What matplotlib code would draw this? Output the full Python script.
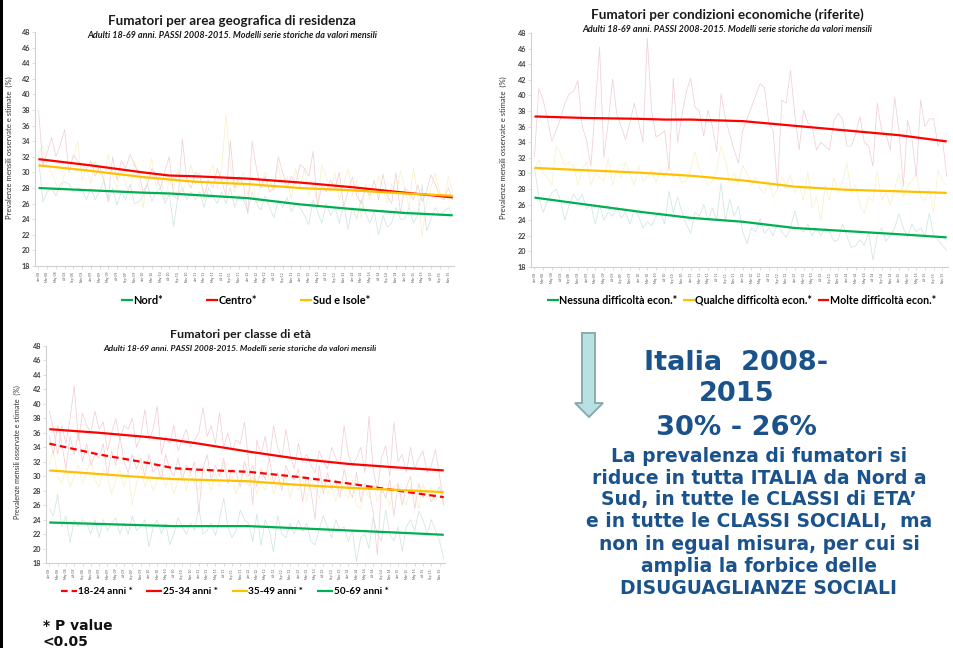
import matplotlib
matplotlib.use("Agg")
import matplotlib.pyplot as plt
from matplotlib.patches import Polygon, Rectangle
import numpy as np

plt.rcParams['font.family'] = ['Lato', 'DejaVu Sans']

W, H = 954, 648

# ---------------- data ----------------
month_names = ['Jan', 'Mar', 'May', 'Jul', 'Sep', 'Nov']
years = ['08', '09', '10', '11', '12', '13', '14', '15']
tick_labels = [f"{m}-{y}" for y in years for m in month_names]
n_months = 96
months = list(range(n_months))
tick_pos = list(range(0, n_months, 2))

trend_idx = [0, 12, 24, 30, 36, 48, 60, 72, 84, 95]

# Chart 1: area geografica
nord_trend = [28.0, 27.7, 27.4, 27.3, 27.1, 26.7, 25.9, 25.3, 24.8, 24.5]
centro_trend = [31.7, 30.9, 30.0, 29.6, 29.5, 29.2, 28.7, 28.1, 27.4, 26.8]
sud_trend = [30.9, 30.2, 29.4, 29.1, 28.8, 28.5, 28.0, 27.7, 27.3, 27.0]

centro_obs = [38.0, 31.0, 32.5, 34.5, 32.0, 33.5, 35.5, 30.0, 32.2, 31.5, 31.0, 30.5,
              31.5, 29.5, 30.8, 29.0, 26.5, 32.0, 29.0, 31.5, 30.5, 32.3, 31.0, 30.0,
              27.5, 28.5, 30.5, 29.5, 28.0, 30.2, 32.0, 27.0, 26.5, 34.3, 29.0, 28.0,
              30.0, 29.5, 27.0, 29.0, 28.0, 30.5, 29.0, 27.0, 34.0, 28.0, 29.5, 28.5,
              24.7, 34.0, 30.5, 28.0, 29.5, 27.5, 28.0, 32.0, 30.0, 28.0, 29.5, 28.5,
              31.0, 30.5, 29.5, 32.7, 25.5, 28.5, 27.5, 29.0, 28.0, 30.0, 25.7, 27.5,
              29.4, 27.0, 26.0, 28.0, 27.0, 29.0, 26.5, 29.8, 27.0, 26.0, 30.0, 24.8,
              28.0, 27.5, 26.5, 28.4, 26.3, 27.5, 29.7, 28.5, 27.0, 26.5, 28.0, 26.5]
sud_obs = [32.5, 33.5, 31.0, 30.0, 28.5, 27.5, 30.0, 31.0, 32.0, 34.0, 29.0, 30.5,
           28.5, 31.5, 30.0, 29.0, 32.3, 29.5, 28.0, 30.5, 28.5, 27.0, 31.5, 29.0,
           25.5, 29.5, 31.8, 28.0, 30.0, 26.5, 29.0, 28.0, 30.5, 27.5, 29.0, 31.0,
           28.5, 30.0, 26.5, 29.5, 31.0, 28.0, 30.5, 37.5, 31.0, 27.5, 29.0, 30.0,
           27.0, 29.5, 26.0, 28.5, 30.0, 29.0, 27.5, 31.0, 28.0, 29.5, 26.5, 30.5,
           28.0, 30.5, 27.0, 28.5, 26.0, 31.0, 29.5, 27.5, 30.0, 26.5, 28.5, 30.5,
           27.0, 29.0, 24.0, 28.5, 26.5, 27.5, 29.5, 28.0, 26.0, 28.5, 27.0, 30.2,
           28.0, 25.5, 30.5, 27.0, 21.8, 26.0, 28.0, 29.9, 27.5, 26.5, 29.5, 27.5]
nord_obs = [32.0, 26.2, 27.5, 28.0, 27.0, 28.5, 28.8, 28.5, 27.5, 28.0, 27.8, 26.5,
            28.0, 26.5, 27.5, 29.0, 26.2, 28.0, 25.8, 27.5, 26.5, 28.5, 26.0, 26.2,
            27.0, 28.5, 26.3, 27.5, 28.0, 26.0, 27.2, 23.1, 27.0, 28.0, 26.5, 27.5,
            26.5, 27.5, 25.5, 28.0, 27.0, 26.0, 27.5, 26.0, 28.0, 25.5, 27.0, 26.5,
            25.0, 27.5, 26.0, 25.2, 27.0, 25.5, 24.2, 26.5, 25.5, 26.8, 25.0, 26.0,
            25.5, 24.5, 23.3, 26.5, 25.0, 23.5, 26.0, 24.5, 25.5, 23.5, 26.0, 22.7,
            25.5, 24.0, 26.5, 24.8, 23.5, 25.0, 22.0, 24.5, 23.0, 23.5, 25.5, 24.0,
            24.0, 25.5, 23.5, 24.5, 28.4, 22.5, 24.0, 25.5, 24.5, 25.0, 25.5, 24.5]

# Chart 2: condizioni economiche
molte_trend = [37.3, 37.1, 37.0, 36.9, 36.9, 36.7, 36.1, 35.5, 34.9, 34.1]
qualche_trend = [30.7, 30.4, 30.1, 29.9, 29.7, 29.1, 28.3, 27.9, 27.7, 27.5]
nessuna_trend = [26.9, 26.0, 25.1, 24.7, 24.3, 23.8, 23.0, 22.6, 22.2, 21.8]

molte_obs = [32.1, 40.9, 39.4, 37.0, 34.1, 35.5, 37.0, 39.0, 40.2, 40.5, 41.9, 36.0,
             34.3, 30.9, 38.5, 46.2, 32.1, 36.5, 42.1, 37.5, 36.0, 34.3, 36.5, 39.0,
             36.5, 34.0, 47.3, 38.0, 34.7, 35.0, 35.5, 30.4, 42.2, 34.0, 37.5, 40.5,
             42.2, 38.5, 38.0, 34.8, 38.1, 36.0, 32.8, 40.2, 37.0, 35.0, 33.0, 31.3,
             35.5, 37.0, 38.5, 40.0, 41.5, 41.0, 36.5, 35.5, 28.1, 39.4, 39.0, 43.2,
             37.5, 33.0, 38.1, 36.5, 36.0, 33.0, 34.0, 33.5, 33.0, 36.8, 37.7, 37.0,
             33.5, 33.5, 35.0, 37.3, 34.0, 33.5, 30.9, 39.0, 35.5, 35.0, 33.0, 39.8,
             35.5, 28.3, 36.8, 34.5, 29.6, 39.4, 36.0, 37.0, 37.0, 33.5, 34.5, 29.6]
qualche_obs = [30.5, 31.8, 30.0, 29.5, 28.5, 33.5, 32.5, 31.0, 31.5, 31.0, 28.5, 30.5,
               31.5, 28.5, 30.0, 29.5, 29.0, 32.0, 28.5, 30.5, 29.5, 31.5, 30.0, 28.5,
               31.0, 29.0, 29.5, 30.5, 28.8, 30.5, 29.5, 31.0, 29.5, 30.0, 28.8, 29.0,
               30.5, 32.8, 30.5, 29.5, 28.5, 29.0, 30.5, 33.5, 31.5, 29.0, 30.0, 28.5,
               31.0, 30.0, 28.5, 29.5, 28.0, 27.5, 29.0, 27.0, 28.0, 29.5, 28.5, 29.8,
               27.5, 28.5, 26.5, 30.2, 25.5, 27.0, 24.0, 28.5, 26.5, 29.5, 27.5, 29.0,
               31.3, 27.5, 28.5, 26.0, 24.9, 27.0, 26.5, 30.3, 26.5, 27.5, 26.0, 28.0,
               30.0, 27.0, 28.5, 29.0, 30.0, 27.0, 26.5, 28.0, 25.0, 30.5, 29.0, 28.5]
nessuna_obs = [30.7, 27.0, 25.0, 26.5, 27.5, 28.0, 26.5, 24.0, 26.0, 27.3, 26.5, 27.3,
               25.5, 26.0, 23.5, 26.0, 24.0, 25.0, 24.5, 25.7, 24.3, 25.0, 23.5, 25.3,
               24.5, 23.0, 23.8, 23.3, 24.5, 25.0, 23.5, 27.7, 25.0, 27.0, 25.0, 23.5,
               22.3, 25.0, 24.5, 26.0, 24.0, 25.5, 24.0, 28.8, 24.0, 26.7, 24.5, 25.8,
               22.5, 21.0, 23.0, 22.5, 24.2, 22.3, 23.0, 22.0, 23.5, 22.5, 21.8, 23.0,
               25.2, 23.0, 22.5, 23.5, 22.0, 23.0, 22.0, 23.0, 22.5, 21.3, 21.5, 23.5,
               22.0, 20.5, 20.7, 21.5, 20.8, 22.5, 18.9, 22.0, 23.0, 21.3, 22.0, 23.0,
               24.8, 23.0, 21.8, 23.5, 22.5, 23.0, 22.0, 24.9, 22.0, 21.5, 20.8, 20.1]

# Chart 3: classe di eta
a1824_trend = [34.5, 33.0, 31.8, 31.1, 30.9, 30.6, 29.9, 29.0, 28.0, 27.1]
a2534_trend = [36.5, 36.0, 35.4, 35.0, 34.5, 33.4, 32.4, 31.7, 31.2, 30.8]
a3549_trend = [30.8, 30.3, 29.8, 29.6, 29.5, 29.3, 28.8, 28.4, 28.1, 27.8]
a5069_trend = [23.6, 23.4, 23.2, 23.1, 23.1, 23.1, 22.8, 22.5, 22.2, 21.9]

a2534_obs = [39.0, 36.5, 33.0, 37.0, 34.5, 38.0, 42.5, 35.0, 38.7, 37.0, 36.0, 39.0,
             36.5, 37.5, 33.5, 36.0, 38.0, 35.0, 37.0, 36.5, 38.0, 34.0, 35.5, 39.2,
             35.0, 36.5, 39.7, 33.0, 35.5, 34.5, 37.0, 33.5, 35.0, 36.5, 34.0, 35.0,
             36.0, 39.5, 35.5, 37.0, 34.5, 38.8, 34.0, 36.0, 33.5, 35.0, 34.5, 37.5,
             32.0, 26.0, 35.0, 33.0, 35.5, 32.0, 37.0, 34.0, 32.5, 36.5, 33.0, 31.0,
             34.5, 32.0, 33.0, 31.5, 30.5, 33.5, 32.0, 31.0, 34.0, 32.5, 31.5, 37.0,
             33.0, 31.5, 32.5, 34.0, 30.5, 38.3, 31.0, 28.0, 32.5, 34.2, 30.0, 37.5,
             32.0, 33.0, 30.5, 34.0, 31.0, 32.5, 33.5, 30.5, 31.5, 33.7, 30.0, 26.0]
a1824_obs = [35.5, 33.0, 37.0, 34.5, 31.0, 35.5, 33.0, 36.0, 32.0, 34.5, 31.5, 33.0,
             32.5, 34.5, 30.0, 33.5, 31.5, 35.5, 32.0, 30.5, 33.0, 31.0, 32.5, 30.0,
             33.0, 30.5, 31.5, 29.5, 33.0, 31.0, 30.0, 32.5, 29.5, 31.5, 30.5, 32.0,
             25.0, 31.0, 33.0, 29.5, 31.5, 30.0, 32.5, 29.0, 31.0, 30.5, 28.5, 32.0,
             30.0, 31.5, 28.5, 31.0, 29.5, 32.5, 29.0, 30.5, 28.0, 31.5, 30.0, 29.5,
             31.0, 26.5, 30.0, 28.0, 24.0, 31.5, 27.5, 30.5, 28.5, 29.5, 27.0, 31.0,
             28.5, 27.0, 30.5, 26.5, 29.0, 28.0, 25.0, 19.1, 28.5, 27.0, 29.5, 24.5,
             29.0, 26.0, 28.5, 30.0, 25.5, 29.0, 27.0, 28.0, 26.5, 27.5, 28.5, 26.0]
a3549_obs = [31.5, 33.5, 30.0, 29.0, 31.0, 28.5, 30.0, 31.5, 29.0, 30.5, 32.5, 29.5,
             28.5, 31.0, 30.0, 27.5, 29.5, 31.0, 28.5, 30.5, 26.0, 29.0, 31.5, 28.5,
             30.0, 28.0, 29.5, 31.0, 28.5, 30.0, 27.5, 29.5, 31.0, 28.0, 30.5, 29.0,
             28.0, 31.5, 29.5, 28.0, 30.5, 28.5, 32.0, 29.0, 30.0, 27.5, 29.5, 31.0,
             28.5, 30.0, 27.5, 29.0, 28.0, 30.5, 27.5, 29.5, 28.5, 30.0, 27.0, 29.0,
             28.0, 30.0, 26.5, 29.5, 28.5, 27.0, 29.5, 27.5, 28.5, 26.5, 29.0, 28.0,
             27.0, 29.5, 26.0, 25.5, 28.5, 27.0, 29.0, 26.5, 28.0, 27.5, 26.0, 28.5,
             29.0, 27.0, 26.0, 28.5, 27.5, 25.5, 29.0, 27.0, 28.5, 26.5, 28.0, 27.5]
a5069_obs = [25.5, 24.5, 27.5, 23.0, 24.5, 20.8, 24.0, 23.0, 24.0, 23.5, 22.0, 24.0,
             21.5, 24.0, 22.5, 23.5, 24.2, 22.0, 23.5, 22.0, 24.5, 22.5, 23.0, 24.0,
             20.2, 23.0, 24.0, 22.0, 23.5, 20.5, 22.0, 24.3, 23.0, 22.0, 23.5, 22.5,
             25.8, 22.0, 22.5, 23.5, 21.8, 24.0, 27.0, 23.0, 21.5, 22.5, 25.3, 24.0,
             23.5, 21.0, 24.8, 20.5, 24.0, 22.5, 19.5, 24.6, 22.0, 21.5, 23.5, 22.0,
             24.0, 22.3, 23.5, 21.0, 20.5, 22.7, 24.5, 23.0, 21.5, 24.0, 22.5, 23.0,
             21.0, 22.5, 18.2, 21.5, 22.0, 20.0, 24.3, 22.0, 21.0, 25.3, 22.0, 21.0,
             23.0, 19.6, 23.0, 24.0, 22.5, 25.2, 24.0, 22.0, 24.0, 22.5, 21.0, 18.6]

# ---------------- styles ----------------
GREEN, RED, YELLOW = '#00b050', '#ff0000', '#ffc000'
PINK_F, YEL_F, TEAL_F = '#f1d0d5', '#f8f1c8', '#cfe6e2'
BLUE = '#1a528c'

fig = plt.figure(figsize=(W / 100, H / 100), dpi=100)
fig.patch.set_facecolor('white')


def fx(px):
    return px / W


def fy(py):
    return 1 - py / H


def make_ax(l, t, r, b):
    ax = fig.add_axes([fx(l), fy(b), fx(r) - fx(l), fy(t) - fy(b)])
    ax.set_xlim(-0.8, 95.3)
    ax.set_ylim(18, 48)
    ax.set_yticks(range(18, 49, 2))
    ax.set_xticks(tick_pos)
    ax.set_xticklabels(tick_labels, rotation=90, fontsize=2.4, color='#595959')
    for lab in ax.get_yticklabels():
        lab.set_fontsize(5.2)
        lab.set_fontweight('bold')
        lab.set_color('#404040')
    for s in ['top', 'right']:
        ax.spines[s].set_visible(False)
    for s in ['left', 'bottom']:
        ax.spines[s].set_color('#d0d0d0')
        ax.spines[s].set_linewidth(0.8)
    ax.tick_params(axis='both', length=2, width=0.5, color='#d0d0d0', pad=1.5)
    return ax


def obs(ax, vals, color):
    ax.plot(months, vals, color=color, lw=0.55, zorder=1)


def trend(ax, vals, color, label, ls='-'):
    return ax.plot(trend_idx, vals, color=color, lw=1.6, ls=ls, label=label, zorder=3,
                   solid_capstyle='butt')[0]


sub = "Adulti 18-69 anni. PASSI 2008-2015. Modelli serie storiche da valori mensili"
ylab = "Prevalenze mensili osservate e stimate  (%)"

# ---- Chart 1 ----
ax1 = make_ax(35, 32, 454, 266)
obs(ax1, nord_obs, TEAL_F)
obs(ax1, sud_obs, YEL_F)
obs(ax1, centro_obs, PINK_F)
h1 = [trend(ax1, nord_trend, GREEN, 'Nord*'),
      trend(ax1, centro_trend, RED, 'Centro*'),
      trend(ax1, sud_trend, YELLOW, 'Sud e Isole*')]
fig.text(fx(232), fy(21), "Fumatori per area geografica di residenza", ha='center', va='center',
         fontsize=9.6, fontweight='bold', color='#1a1a1a')
fig.text(fx(232), fy(36), sub, ha='center', va='center', fontsize=6.5, fontweight='bold',
         style='italic', color='#1a1a1a')
fig.text(fx(9), fy(148), ylab, rotation=90, ha='center', va='center', fontsize=5.5, color='#303030')
fig.legend(handles=h1, loc='center left', bbox_to_anchor=(fx(121), fy(300)), ncol=3,
           frameon=False, handlelength=1.1, handletextpad=0.05,
           columnspacing=3.9, borderpad=0, borderaxespad=0,
           prop={'weight': 'bold', 'size': 7.9})

# ---- Chart 2 ----
ax2 = make_ax(531, 33, 948, 267)
obs(ax2, nessuna_obs, TEAL_F)
obs(ax2, qualche_obs, YEL_F)
obs(ax2, molte_obs, PINK_F)
h2 = [trend(ax2, nessuna_trend, GREEN, 'Nessuna difficoltà econ.*'),
      trend(ax2, qualche_trend, YELLOW, 'Qualche difficoltà econ.*'),
      trend(ax2, molte_trend, RED, 'Molte difficoltà econ.*')]
fig.text(fx(727), fy(15), "Fumatori per condizioni economiche (riferite)", ha='center', va='center',
         fontsize=9.7, fontweight='bold', color='#1a1a1a')
fig.text(fx(727), fy(29), sub, ha='center', va='center', fontsize=6.5, fontweight='bold',
         style='italic', color='#1a1a1a')
fig.text(fx(503), fy(148), ylab, rotation=90, ha='center', va='center', fontsize=5.5, color='#303030')
fig.legend(handles=h2, loc='center left', bbox_to_anchor=(fx(547), fy(300)), ncol=3,
           frameon=False, handlelength=1.1, handletextpad=0.05,
           columnspacing=0.5, borderpad=0, borderaxespad=0,
           prop={'weight': 'bold', 'size': 7.7})

# ---- Chart 3 ----
ax3 = make_ax(46, 346, 445, 563)
obs(ax3, a5069_obs, TEAL_F)
obs(ax3, a3549_obs, YEL_F)
obs(ax3, a1824_obs, PINK_F)
obs(ax3, a2534_obs, PINK_F)
h3 = [trend(ax3, a1824_trend, RED, '18-24 anni *', ls=(0, (3.0, 1.8))),
      trend(ax3, a2534_trend, RED, '25-34 anni *'),
      trend(ax3, a3549_trend, YELLOW, '35-49 anni *'),
      trend(ax3, a5069_trend, GREEN, '50-69 anni *')]
fig.text(fx(240), fy(335), "Fumatori per classe di età", ha='center', va='center',
         fontsize=8.9, fontweight='bold', color='#1a1a1a')
fig.text(fx(240), fy(348), sub, ha='center', va='center', fontsize=6.1, fontweight='bold',
         style='italic', color='#1a1a1a')
fig.text(fx(17), fy(452), ylab, rotation=90, ha='center', va='center', fontsize=5.1, color='#303030')
fig.legend(handles=h3, loc='center left', bbox_to_anchor=(fx(61), fy(592)), ncol=4,
           frameon=False, handlelength=1.6, handletextpad=0.05,
           columnspacing=1.4, borderpad=0, borderaxespad=0,
           prop={'weight': 'bold', 'size': 7.2})

# ---- P value note ----
fig.text(fx(43), fy(626), "* P value", ha='left', va='center', fontsize=10, fontweight='bold',
         family='DejaVu Sans', color='#111111')
fig.text(fx(43), fy(642), "<0.05", ha='left', va='center', fontsize=10, fontweight='bold',
         family='DejaVu Sans', color='#111111')

# ---- Arrow ----
arrow_px = [(582, 333), (595, 333), (595, 403), (603, 403), (589, 417), (575, 403), (582, 403)]
fig.patches.append(Polygon([(fx(x), fy(y)) for x, y in arrow_px], closed=True,
                           transform=fig.transFigure, facecolor='#b9e0e3',
                           edgecolor='#8aabad', lw=1.4))

# ---- Summary text ----
for txt, cx, cy, fs in [("Italia  2008-", 736, 363, 19.6),
                         ("2015", 737, 394, 19.6),
                         ("30% - 26%", 736, 428, 19.6)]:
    fig.text(fx(cx), fy(cy), txt, ha='center', va='center', fontsize=fs, fontweight='bold',
             family='DejaVu Sans', color=BLUE)

para = ["La prevalenza di fumatori si",
        "riduce in tutta ITALIA da Nord a",
        "Sud, in tutte le CLASSI di ETA’",
        "e in tutte le CLASSI SOCIALI,  ma",
        "non in egual misura, per cui si",
        "amplia la forbice delle",
        "DISUGUAGLIANZE SOCIALI"]
para_y = [457, 479, 500, 522, 544, 566, 588]
for txt, yy in zip(para, para_y):
    fig.text(fx(759), fy(yy), txt, ha='center', va='center', fontsize=13.5, fontweight='bold',
             family='DejaVu Sans', color=BLUE)

# black left edge
fig.patches.append(Rectangle((0, 0), fx(2.5), 1, transform=fig.transFigure,
                             facecolor='black', edgecolor='none'))

fig.savefig('out.png', dpi=100)
